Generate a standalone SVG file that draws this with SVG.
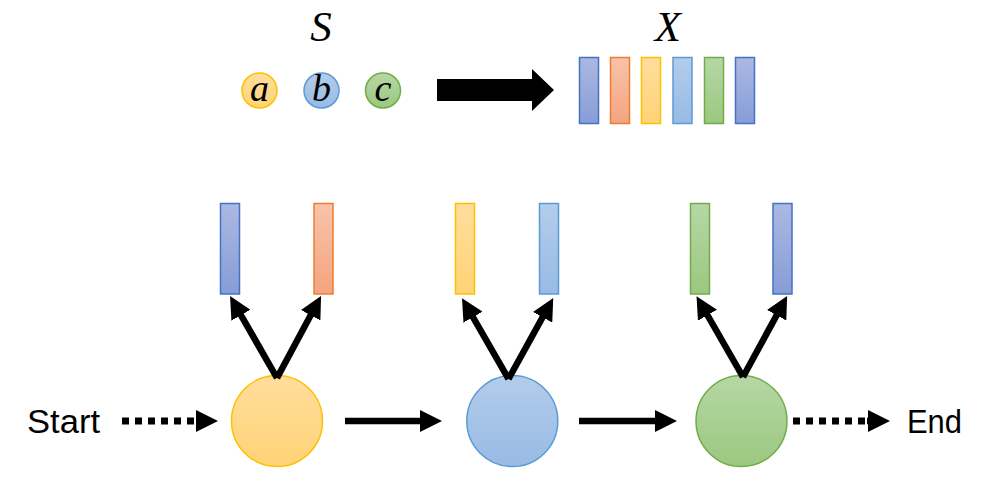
<svg xmlns="http://www.w3.org/2000/svg" width="993" height="488" viewBox="0 0 993 488">
<defs>
<linearGradient id="gBlue" x1="0" y1="0" x2="0" y2="1"><stop offset="0" stop-color="#abb8e2"/><stop offset="1" stop-color="#879dd7"/></linearGradient>
<linearGradient id="gOrange" x1="0" y1="0" x2="0" y2="1"><stop offset="0" stop-color="#f8c3ab"/><stop offset="1" stop-color="#f4a47f"/></linearGradient>
<linearGradient id="gYellow" x1="0" y1="0" x2="0" y2="1"><stop offset="0" stop-color="#ffdd9c"/><stop offset="1" stop-color="#ffd376"/></linearGradient>
<linearGradient id="gLBlue" x1="0" y1="0" x2="0" y2="1"><stop offset="0" stop-color="#b3cdeb"/><stop offset="1" stop-color="#98bae4"/></linearGradient>
<linearGradient id="gGreen" x1="0" y1="0" x2="0" y2="1"><stop offset="0" stop-color="#b6d7a6"/><stop offset="1" stop-color="#9bc880"/></linearGradient>
<marker id="ah" markerUnits="userSpaceOnUse" markerWidth="22" markerHeight="22" viewBox="0 0 22 22" refX="6" refY="11" orient="auto">
<path d="M0,0 L22,11 L0,22 z" fill="#000"/>
</marker>
</defs>
<style>
.bB{fill:url(#gBlue);stroke:#4472c4;stroke-width:1.5}
.bO{fill:url(#gOrange);stroke:#ed7d31;stroke-width:1.5}
.bY{fill:url(#gYellow);stroke:#ffc000;stroke-width:1.5}
.bL{fill:url(#gLBlue);stroke:#5b9bd5;stroke-width:1.5}
.bG{fill:url(#gGreen);stroke:#70ad47;stroke-width:1.5}
.sym{font-family:"Liberation Serif",serif;font-style:italic;fill:#000;text-anchor:middle}
.lbl{font-family:"Liberation Sans",Arial,sans-serif;font-size:33px;fill:#000}
.arr{stroke:#000;stroke-width:6.5;fill:none;marker-end:url(#ah)}
.dot{stroke:#000;stroke-width:7;fill:none;stroke-dasharray:7 6}
</style>

<g id="set-S">
<text class="sym" x="321" y="41" font-size="43">S</text>
<g id="sym-a"><circle cx="259.5" cy="90.5" r="17.5" class="bY"/><text class="sym" x="259.5" y="100.5" font-size="38">a</text></g>
<g id="sym-b"><circle cx="321.5" cy="90.5" r="17.5" class="bL"/><text class="sym" x="321.5" y="100.5" font-size="38">b</text></g>
<g id="sym-c"><circle cx="383" cy="90.5" r="17.5" class="bG"/><text class="sym" x="383" y="100.5" font-size="38">c</text></g>
</g>

<g id="big-arrow">
<polygon points="437,79 532,79 532,69 554,90 532,111 532,101 437,101" fill="#000"/>
</g>

<g id="seq-X">
<text class="sym" x="668" y="41" font-size="43">X</text>
<rect x="579.5" y="57.5" width="19" height="66" class="bB"/>
<rect x="610.5" y="57.5" width="19" height="66" class="bO"/>
<rect x="641.5" y="57.5" width="19" height="66" class="bY"/>
<rect x="673" y="57.5" width="19" height="66" class="bL"/>
<rect x="704.5" y="57.5" width="19" height="66" class="bG"/>
<rect x="735.5" y="57.5" width="19" height="66" class="bB"/>
</g>

<g id="out1">
<rect x="220.5" y="203.5" width="19" height="90.5" class="bB"/>
<rect x="314" y="203.5" width="19" height="90.5" class="bO"/>
</g>
<g id="out2">
<rect x="455.5" y="203.5" width="19" height="90.5" class="bY"/>
<rect x="539.5" y="203.5" width="19" height="90.5" class="bL"/>
</g>
<g id="out3">
<rect x="690.5" y="203.5" width="19" height="90.5" class="bG"/>
<rect x="773" y="203.5" width="19" height="90.5" class="bB"/>
</g>

<g id="state1"><circle cx="277" cy="421" r="45.5" class="bY"/></g>
<g id="state2"><circle cx="512.3" cy="421" r="45.5" class="bL"/></g>
<g id="state3"><circle cx="741.5" cy="421" r="45.5" class="bG"/></g>

<g id="start"><text class="lbl" x="27" y="433" textLength="73" lengthAdjust="spacingAndGlyphs">Start</text></g>
<g id="end"><text class="lbl" x="907" y="433" textLength="55" lengthAdjust="spacingAndGlyphs">End</text></g>

<g id="connectors">
<line class="dot" x1="122" y1="421" x2="196" y2="421"/>
<line class="arr" x1="196" y1="421" x2="202" y2="421"/>
<line class="arr" x1="345" y1="421" x2="426" y2="421"/>
<line class="arr" x1="579" y1="421" x2="661" y2="421"/>
<line class="dot" x1="793" y1="421" x2="867" y2="421"/>
<line class="arr" x1="867" y1="421" x2="874" y2="421"/>

<line class="arr" x1="277" y1="378" x2="238" y2="310"/>
<line class="arr" x1="277" y1="378" x2="313.5" y2="310"/>
<line class="arr" x1="508.5" y1="379" x2="470" y2="312"/>
<line class="arr" x1="508.5" y1="379" x2="545.5" y2="312"/>
<line class="arr" x1="743" y1="377" x2="704.5" y2="310"/>
<line class="arr" x1="743" y1="377" x2="779.5" y2="310"/>
</g>
</svg>
